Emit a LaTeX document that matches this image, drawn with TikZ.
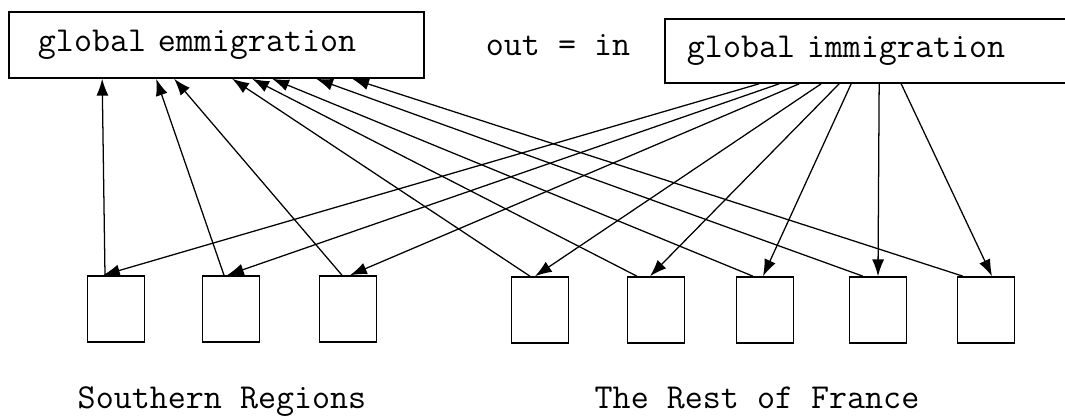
\documentclass[tikz,border=0pt]{standalone}
\usepackage{fontspec}
\usetikzlibrary{arrows.meta,calc}

\begin{document}
\begin{tikzpicture}[x=0.025cm, y=-0.025cm,
  font=\ttfamily\fontsize{24.9}{30}\selectfont,
  bigbox/.style={draw, line width=1.1pt, align=left, minimum height=1.65cm},
  regbox/.style={draw, line width=1.1pt, minimum width=1.425cm, minimum height=1.65cm},
  flow/.style={line width=0.9pt, -{Latex[length=4.2mm, width=3mm]}}]
\useasboundingbox (0, 0) rectangle (1065, 416);
\node (emig) [bigbox, inner xsep=0.725cm, text width=8.925cm] at (216.5, 45) {global emmigration};
\node (immig) [bigbox, inner xsep=0.55cm, text width=9.4cm, minimum height=1.6cm] at (875, 51) {global immigration};
\node (eq) [anchor=base] at (558, 55) {out = in};
\node (s1) [regbox] at (116, 309) {};
\node (s2) [regbox] at (231, 309) {};
\node (s3) [regbox] at (348, 309) {};
\node (f1) [regbox] at (540, 310) {};
\node (f2) [regbox] at (656, 310) {};
\node (f3) [regbox] at (765, 310) {};
\node (f4) [regbox] at (878, 310) {};
\node (f5) [regbox] at (986, 310) {};
\node (south) [anchor=base] at (222, 408) {Southern Regions};
\node (rest) [anchor=base] at (757, 408) {The Rest of France};
% emigration
\draw [flow] ($(s1.north)+(-11, 0)$) -- ($(emig.south west)+(94, 0)$);
\draw [flow] ($(s2.north)+(-7, 0)$) -- ($(emig.south west)+(148, 0)$);
\draw [flow] ($(s3.north)+(-6, 0)$) -- ($(emig.south west)+(166, 0)$);
\draw [flow] ($(f1.north)+(-10, 0)$) -- ($(emig.south west)+(224, 0)$);
\draw [flow] ($(f2.north)+(-19, 0)$) -- ($(emig.south west)+(244, 0)$);
\draw [flow] ($(f3.north)+(-12, 0)$) -- ($(emig.south west)+(264, 0)$);
\draw [flow] ($(f4.north)+(-15, 0)$) -- ($(emig.south west)+(308, 0)$);
\draw [flow] ($(f5.north)+(-23, 0)$) -- ($(emig.south west)+(344, 0)$);
% immigration
\draw [flow] ($(immig.south west)+(95, 0)$) -- ($(s1.north)+(-13, 0)$);
\draw [flow] ($(immig.south west)+(115, 0)$) -- ($(s2.north)+(-4, 0)$);
\draw [flow] ($(immig.south west)+(135, 0)$) -- ($(s3.north)+(2, 0)$);
\draw [flow] ($(immig.south west)+(157, 0)$) -- ($(f1.north)+(-5, 0)$);
\draw [flow] ($(immig.south west)+(175, 0)$) -- ($(f2.north)+(-6, 0)$);
\draw [flow] ($(immig.south west)+(187, 0)$) -- ($(f3.north)+(-2, 0)$);
\draw [flow] ($(immig.south west)+(215, 0)$) -- ($(f4.north)+(0, 0)$);
\draw [flow] ($(immig.south west)+(237, 0)$) -- ($(f5.north)+(6, 0)$);
\end{tikzpicture}
\end{document}
